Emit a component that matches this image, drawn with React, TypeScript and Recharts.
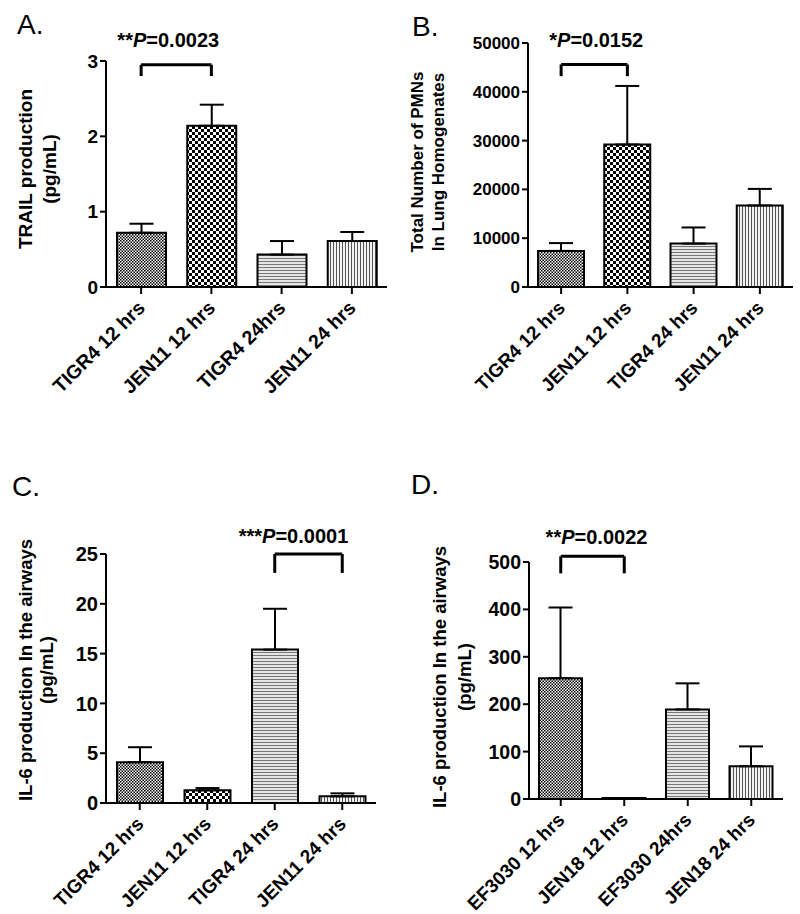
import React from 'react';
import { BarChart, Bar, XAxis, YAxis, ErrorBar, Cell, ReferenceLine } from 'recharts';

const FONT = '"Liberation Sans", Arial, Helvetica, sans-serif';

// A. TRAIL
const trailGroups = ['TIGR4 12 hrs', 'JEN11 12 hrs', 'TIGR4 24hrs', 'JEN11 24 hrs'];
const trailMean = [0.72, 2.14, 0.43, 0.61];
const trailUpper = [0.84, 2.42, 0.61, 0.73];
const trailTicks = [0, 1, 2, 3];

// B. PMNs
const pmnGroups = ['TIGR4 12 hrs', 'JEN11 12 hrs', 'TIGR4 24 hrs', 'JEN11 24 hrs'];
const pmnMean = [7400, 29200, 8900, 16700];
const pmnUpper = [9000, 41200, 12200, 20100];
const pmnTicks = [0, 10000, 20000, 30000, 40000, 50000];

// C. IL-6, TIGR4 / JEN11
const il6TigrGroups = ['TIGR4 12 hrs', 'JEN11 12 hrs', 'TIGR4 24 hrs', 'JEN11 24 hrs'];
const il6TigrMean = [4.1, 1.27, 15.4, 0.67];
const il6TigrUpper = [5.6, 1.5, 19.5, 0.97];
const il6TigrTicks = [0, 5, 10, 15, 20, 25];

// D. IL-6, EF3030 / JEN18
const il6EfGroups = ['EF3030 12 hrs', 'JEN18 12 hrs', 'EF3030 24hrs', 'JEN18 24 hrs'];
const il6EfMean = [255, 2, 189, 69];
const il6EfUpper = [404, 2, 244, 111];
const il6EfTicks = [0, 100, 200, 300, 400, 500];

// significance brackets: [left group index, right group index], bracket top, leg bottom
const trailSig = { pair: [0, 1], top: 2.95, leg: 2.8, stars: '**', p: '0.0023' };
const pmnSig = { pair: [0, 1], top: 45600, leg: 43200, stars: '*', p: '0.0152' };
const il6TigrSig = { pair: [2, 3], top: 25, leg: 23.1, stars: '***', p: '0.0001' };
const il6EfSig = { pair: [0, 1], top: 512, leg: 476, stars: '**', p: '0.0022' };

function SlantTick(props: any) {
  const { x, y, payload, size } = props;
  const tx = x + 5;
  const ty = y + 13;
  return (
    <text
      x={tx}
      y={ty}
      transform={`rotate(-45, ${tx}, ${ty})`}
      textAnchor="end"
      fontFamily={FONT}
      fontWeight="bold"
      fontSize={size}
      fill="#000"
    >
      {payload.value}
    </text>
  );
}

function SigLabel(props: any) {
  const { viewBox, stars, p, dx = 0, dy = 14, size = 20 } = props;
  if (!viewBox) return null;
  const cx = viewBox.x + viewBox.width / 2 + dx;
  return (
    <text x={cx} y={viewBox.y - dy} textAnchor="middle" fontFamily={FONT} fontWeight="bold" fontSize={size} fill="#000">
      {stars}
      <tspan fontStyle="italic">P</tspan>
      {'=' + p}
    </text>
  );
}

function YTitle(props: any) {
  const { lines, xs, cy, size } = props;
  return (
    <g>
      {lines.map((line: string, i: number) => (
        <text
          key={line}
          x={xs[i]}
          y={cy}
          transform={`rotate(-90, ${xs[i]}, ${cy})`}
          textAnchor="middle"
          fontFamily={FONT}
          fontWeight="bold"
          fontSize={size}
          fill="#000"
        >
          {line}
        </text>
      ))}
    </g>
  );
}

function Patterns({ id }: { id: string }) {
  return (
    <defs>
      <pattern id={`${id}-dots`} width="3" height="3" patternUnits="userSpaceOnUse">
        <rect width="3" height="3" fill="#fff" />
        <rect width="1.5" height="1.5" fill="#000" />
        <rect x="1.5" y="1.5" width="1.5" height="1.5" fill="#000" />
      </pattern>
      <pattern id={`${id}-check`} width="6" height="6" patternUnits="userSpaceOnUse">
        <rect width="6" height="6" fill="#fff" />
        <rect width="3" height="3" fill="#000" />
        <rect x="3" y="3" width="3" height="3" fill="#000" />
      </pattern>
      <pattern id={`${id}-hline`} width="6" height="3" patternUnits="userSpaceOnUse">
        <rect width="6" height="3" fill="#e6e6e6" />
        <rect width="6" height="1" fill="#777" />
      </pattern>
      <pattern id={`${id}-vline`} width="3" height="6" patternUnits="userSpaceOnUse">
        <rect width="3" height="6" fill="#f2f2f2" />
        <rect width="1" height="6" fill="#555" />
      </pattern>
    </defs>
  );
}

function StatPanel(props: any) {
  const {
    id, groups, mean, upper, ticks, sig, left, top, width, height, margin,
    yAxisWidth, xAxisHeight, barSize, tickSize, catSize, title, sigDx, sigDy,
  } = props;
  const rows = groups.map((g: string, i: number) => ({
    group: g,
    mean: mean[i],
    err: [0, upper[i] - mean[i]],
  }));
  const fills = ['dots', 'check', 'hline', 'vline'];
  const a = groups[sig.pair[0]];
  const b = groups[sig.pair[1]];
  const ax = { stroke: '#000', strokeWidth: 2 };
  return (
    <div style={{ position: 'absolute', left, top }}>
      <BarChart width={width} height={height} data={rows} margin={margin} barSize={barSize}>
        <Patterns id={id} />
        <XAxis
          dataKey="group"
          height={xAxisHeight}
          interval={0}
          axisLine={ax}
          tickLine={ax}
          tickSize={7}
          tick={<SlantTick size={catSize} />}
        />
        <YAxis
          width={yAxisWidth}
          domain={[0, ticks[ticks.length - 1]]}
          ticks={ticks}
          interval={0}
          axisLine={ax}
          tickLine={ax}
          tickSize={6}
          tickMargin={2}
          tick={{ fill: '#000', fontFamily: FONT, fontWeight: 'bold', fontSize: tickSize }}
          label={<YTitle {...title} />}
        />
        <Bar dataKey="mean" stroke="#000" strokeWidth={2} isAnimationActive={false}>
          {rows.map((r: any, i: number) => (
            <Cell key={r.group} fill={`url(#${id}-${fills[i]})`} />
          ))}
          <ErrorBar dataKey="err" direction="y" width={12} stroke="#000" strokeWidth={2} isAnimationActive={false} />
        </Bar>
        <ReferenceLine
          ifOverflow="visible"
          stroke="#000"
          strokeWidth={3}
          segment={[{ x: a, y: sig.top }, { x: b, y: sig.top }]}
          label={<SigLabel stars={sig.stars} p={sig.p} dx={sigDx} dy={sigDy} />}
        />
        <ReferenceLine ifOverflow="visible" stroke="#000" strokeWidth={3} segment={[{ x: a, y: sig.top }, { x: a, y: sig.leg }]} />
        <ReferenceLine ifOverflow="visible" stroke="#000" strokeWidth={3} segment={[{ x: b, y: sig.top }, { x: b, y: sig.leg }]} />
      </BarChart>
    </div>
  );
}

export default function App() {
  return (
    <div style={{ position: 'absolute', left: 0, top: 0, width: 800, height: 914, background: '#fff', overflow: 'hidden' }}>
      <StatPanel
        id="pa"
        groups={trailGroups}
        mean={trailMean}
        upper={trailUpper}
        ticks={trailTicks}
        sig={trailSig}
        left={0}
        top={0}
        width={400}
        height={460}
        margin={{ top: 61, right: 13, bottom: 53, left: 0 }}
        yAxisWidth={106}
        xAxisHeight={120}
        barSize={49}
        tickSize={19}
        catSize={19.5}
        sigDx={-8}
        sigDy={18}
        title={{ lines: ['TRAIL production', '(pg/mL)'], xs: [32, 56], cy: 169, size: 19 }}
      />
      <StatPanel
        id="pb"
        groups={pmnGroups}
        mean={pmnMean}
        upper={pmnUpper}
        ticks={pmnTicks}
        sig={pmnSig}
        left={400}
        top={0}
        width={400}
        height={460}
        margin={{ top: 43, right: 7, bottom: 53, left: 0 }}
        yAxisWidth={128}
        xAxisHeight={120}
        barSize={46}
        tickSize={17}
        catSize={19}
        sigDx={2}
        sigDy={17}
        title={{ lines: ['Total Number of PMNs', 'In Lung Homogenates'], xs: [23, 44], cy: 162, size: 17 }}
      />
      <StatPanel
        id="pc"
        groups={il6TigrGroups}
        mean={il6TigrMean}
        upper={il6TigrUpper}
        ticks={il6TigrTicks}
        sig={il6TigrSig}
        left={0}
        top={460}
        width={400}
        height={454}
        margin={{ top: 94, right: 24, bottom: 21, left: 0 }}
        yAxisWidth={106}
        xAxisHeight={90}
        barSize={46}
        tickSize={20}
        catSize={19}
        sigDx={-15}
        sigDy={11}
        title={{ lines: ['IL-6 production In the airways', '(pg/mL)'], xs: [32, 53], cy: 210, size: 18.5 }}
      />
      <StatPanel
        id="pd"
        groups={il6EfGroups}
        mean={il6EfMean}
        upper={il6EfUpper}
        ticks={il6EfTicks}
        sig={il6EfSig}
        left={400}
        top={460}
        width={400}
        height={454}
        margin={{ top: 102, right: 17, bottom: 25, left: 0 }}
        yAxisWidth={129}
        xAxisHeight={90}
        barSize={43}
        tickSize={19.5}
        catSize={19}
        sigDx={4}
        sigDy={12}
        title={{ lines: ['IL-6 production In the airways', '(pg/mL)'], xs: [46, 71], cy: 217, size: 18.5 }}
      />
      <svg width={800} height={914} style={{ position: 'absolute', left: 0, top: 0, pointerEvents: 'none' }}>
        <g fontFamily={FONT} fontSize={28} fill="#000">
          <text x={17} y={34}>A.</text>
          <text x={412} y={36}>B.</text>
          <text x={12} y={496}>C.</text>
          <text x={411} y={494}>D.</text>
        </g>
      </svg>
    </div>
  );
}
